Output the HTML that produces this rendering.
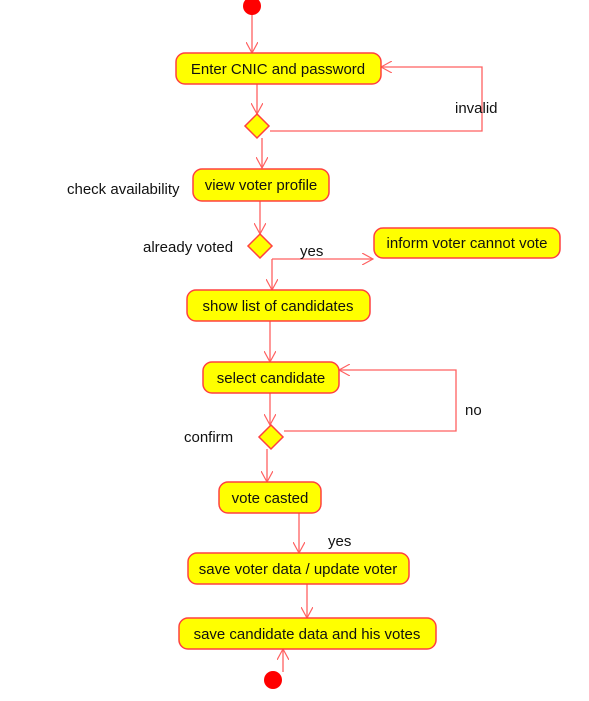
<!DOCTYPE html>
<html><head><style>
html,body{margin:0;padding:0;background:#fff;}
svg text{font-family:"Liberation Sans",Arial,sans-serif;font-size:15px;fill:#111;}
</style></head><body>
<svg width="589" height="696" viewBox="0 0 589 696" xmlns="http://www.w3.org/2000/svg">
<defs>
<marker id="a" viewBox="0 0 12 12" refX="11" refY="6" markerWidth="12" markerHeight="12" markerUnits="userSpaceOnUse" orient="auto"><path d="M0,0 L11,6 L0,12" fill="none" stroke="#ff6060" stroke-width="1.2"/></marker>
</defs>
<g fill="none" stroke="#ff6060" stroke-width="1.3" marker-end="url(#a)">
<path d="M252 14 V53"/>
<path d="M257 84 V114"/>
<path d="M270 131 H482 V67 H381"/>
<path d="M262 138 V168"/>
<path d="M260 201 V234"/>
<path d="M272 259 H373"/>
<path d="M272 259 V290"/>
<path d="M270 321 V362"/>
<path d="M270 393 V425"/>
<path d="M284 431 H456 V370 H339"/>
<path d="M267 449 V482"/>
<path d="M299 513 V553"/>
<path d="M307 584 V618"/>
<path d="M283 672 V649"/>
</g>
<g fill="#ffff00" stroke="#ff4040" stroke-width="1.5">
<rect x="176" y="53" width="205" height="31" rx="9"/>
<rect x="193" y="169" width="136" height="32" rx="9"/>
<rect x="374" y="228" width="186" height="30" rx="9"/>
<rect x="187" y="290" width="183" height="31" rx="9"/>
<rect x="203" y="362" width="136" height="31" rx="9"/>
<rect x="219" y="482" width="102" height="31" rx="9"/>
<rect x="188" y="553" width="221" height="31" rx="9"/>
<rect x="179" y="618" width="257" height="31" rx="9"/>
<path d="M257 114 L269 126 L257 138 L245 126Z"/>
<path d="M260 234 L272 246 L260 258 L248 246Z"/>
<path d="M271 425 L283 437 L271 449 L259 437Z"/>
</g>
<circle cx="252" cy="6" r="9" fill="#f00"/>
<circle cx="273" cy="680" r="9" fill="#f00"/>
<g text-anchor="middle">
<text x="278" y="74">Enter CNIC and password</text>
<text x="261" y="190">view voter profile</text>
<text x="467" y="248">inform voter cannot vote</text>
<text x="278" y="311">show list of candidates</text>
<text x="271" y="383">select candidate</text>
<text x="270" y="503">vote casted</text>
<text x="298" y="574">save voter data / update voter</text>
<text x="307" y="639">save candidate data and his votes</text>
</g>
<text x="455" y="113">invalid</text>
<text x="67" y="194">check availability</text>
<text x="143" y="252">already voted</text>
<text x="300" y="256">yes</text>
<text x="465" y="415">no</text>
<text x="184" y="442">confirm</text>
<text x="328" y="546">yes</text>
</svg>
</body></html>
